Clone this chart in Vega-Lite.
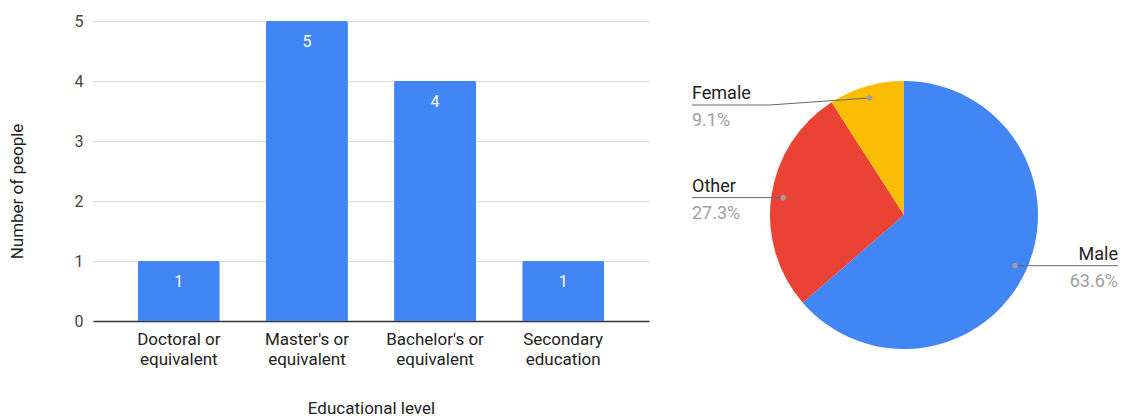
{
  "$schema": "https://vega.github.io/schema/vega-lite/v6.json",
  "padding": {"left": 8, "top": 13, "right": 0, "bottom": 0},
  "spacing": 41,
  "config": {
    "font": "Roboto",
    "view": {"stroke": null},
    "axis": {"labelColor": "#444444", "titleColor": "#222222", "gridColor": "#dadada", "titleFontWeight": "normal"}
  },
  "hconcat": [
    {
      "width": 556,
      "height": 300,
      "data": {"values": [
        {"level": "Doctoral or equivalent", "people": 1},
        {"level": "Master's or equivalent", "people": 5},
        {"level": "Bachelor's or equivalent", "people": 4},
        {"level": "Secondary education", "people": 1}
      ]},
      "encoding": {
        "x": {"field": "level", "type": "nominal", "sort": null,
          "scale": {"paddingInner": 0.36, "paddingOuter": 0.35},
          "axis": {"title": "Educational level", "labelAngle": 0,
            "labelExpr": "[slice(datum.label,0,lastindexof(datum.label,' ')), slice(datum.label,lastindexof(datum.label,' ')+1)]",
            "labelFontSize": 17, "labelLineHeight": 20, "labelPadding": 10, "ticks": false,
            "domainColor": "#333333", "domainWidth": 1.5, "titlePadding": 33, "titleFontSize": 17, "labelColor": "#222222"}},
        "y": {"field": "people", "type": "quantitative", "scale": {"domain": [0, 5]},
          "axis": {"title": "Number of people", "tickCount": 5, "domain": false, "ticks": false,
            "labelPadding": 10, "labelFontSize": 16, "titlePadding": 48, "titleFontSize": 17, "titleY": 170}}
      },
      "layer": [
        {"mark": {"type": "bar", "color": "#4285F4", "cornerRadiusTopLeft": 2, "cornerRadiusTopRight": 2}},
        {"mark": {"type": "text", "color": "white", "dy": 21, "fontSize": 16, "baseline": "middle"},
          "encoding": {"text": {"field": "people", "type": "quantitative"}}}
      ]
    },
    {
      "width": 428,
      "height": 388,
      "data": {"values": [
        {"gender": "Male", "count": 7},
        {"gender": "Other", "count": 3},
        {"gender": "Female", "count": 1}
      ]},
      "transform": [
        {"joinaggregate": [{"op": "sum", "field": "count", "as": "total"}]},
        {"window": [{"op": "sum", "field": "count", "as": "cum"}], "sort": [{"field": "count", "order": "descending"}], "frame": [null, 0]},
        {"calculate": "2*PI*(datum.cum - datum.count/2)/datum.total", "as": "mid"},
        {"calculate": "datum.count/datum.total", "as": "share"},
        {"calculate": "122*sin(datum.mid)", "as": "dotX"},
        {"calculate": "122*cos(datum.mid)", "as": "dotY"},
        {"calculate": "datum.dotX < 0 ? 'left' : 'right'", "as": "side"},
        {"calculate": "min(datum.dotY, 110)", "as": "lineY"},
        {"calculate": "datum.dotY > datum.lineY ? datum.dotX - 100 : datum.dotX", "as": "bendX"},
        {"calculate": "datum.side == 'left' ? -212 : 214", "as": "endX"}
      ],
      "encoding": {
        "x": {"field": "dotX", "type": "quantitative", "scale": {"domain": [-214, 214], "nice": false, "zero": false}, "axis": null},
        "y": {"field": "dotY", "type": "quantitative", "scale": {"domain": [-194, 194], "nice": false, "zero": false}, "axis": null}
      },
      "layer": [
        {"mark": {"type": "arc", "outerRadius": 134},
          "encoding": {
            "x": null, "y": null,
            "theta": {"field": "count", "type": "quantitative", "stack": true},
            "order": {"field": "count", "sort": "descending"},
            "color": {"field": "gender", "type": "nominal", "scale": {"domain": ["Male", "Other", "Female"], "range": ["#4285F4", "#EA4335", "#FBBC04"]}, "legend": null}
          }},
        {"mark": {"type": "rule", "color": "#666666", "strokeWidth": 1},
          "encoding": {"x2": {"field": "bendX"}, "y2": {"field": "lineY"}}},
        {"mark": {"type": "rule", "color": "#666666", "strokeWidth": 1},
          "encoding": {"x": {"field": "bendX", "type": "quantitative"}, "y": {"field": "lineY", "type": "quantitative"}, "x2": {"field": "endX"}, "y2": {"field": "lineY"}}},
        {"mark": {"type": "point", "filled": true, "color": "#9e9e9e", "size": 30, "opacity": 1}},
        {"mark": {"type": "text", "fontSize": 18, "color": "#222222", "dy": -6, "baseline": "alphabetic", "align": {"expr": "datum.side == 'left' ? 'left' : 'right'"}},
          "encoding": {"x": {"field": "endX", "type": "quantitative"}, "y": {"field": "lineY", "type": "quantitative"}, "text": {"field": "gender", "type": "nominal"}}},
        {"mark": {"type": "text", "fontSize": 18, "color": "#9e9e9e", "dy": 21, "baseline": "alphabetic", "align": {"expr": "datum.side == 'left' ? 'left' : 'right'"}},
          "encoding": {"x": {"field": "endX", "type": "quantitative"}, "y": {"field": "lineY", "type": "quantitative"}, "text": {"field": "share", "type": "quantitative", "format": ".1%"}}}
      ]
    }
  ]
}
